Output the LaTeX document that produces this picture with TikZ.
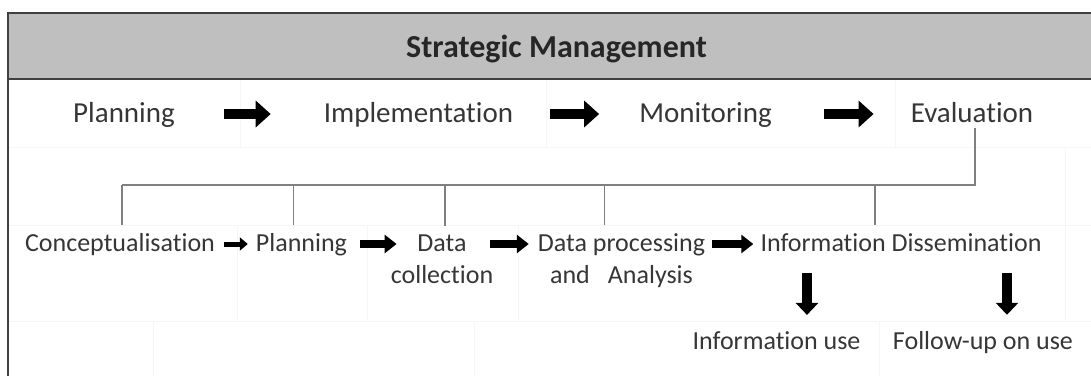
\documentclass[tikz,border=0pt]{standalone}
\usepackage{fontspec}
\setmainfont{Carlito}[Ligatures=NoCommon]
\usepackage{tikz}
\usetikzlibrary{arrows.meta}

\definecolor{headgray}{HTML}{BFBFBF}
\definecolor{framegray}{HTML}{404040}
\definecolor{txt}{HTML}{363636}

\tikzset{
  stage/.style={font=\fontsize{29}{35}\selectfont, text=txt, anchor=base, inner xsep=0pt, inner ysep=6pt},
  task/.style={font=\fontsize{26}{32}\selectfont, text=txt, anchor=base, align=center, inner xsep=0pt, inner ysep=8pt},
  bigarrow/.style={line width=10pt, -{Triangle[length=15pt,width=26pt]}},
  midarrow/.style={line width=8pt, -{Triangle[length=12pt,width=18pt]}},
  smallarrow/.style={line width=5pt, -{Triangle[length=8pt,width=13pt]}},
  downarrow/.style={line width=10pt, -{Triangle[length=12pt,width=22pt]}},
  bracket/.style={draw=black!50, line width=1.2pt},
  cell/.style={draw=black!3.5, line width=1pt}
}

\begin{document}
\begin{tikzpicture}[x=1pt,y=-1pt]
	\useasboundingbox (0,0) rectangle (1091,376);

	% faint table cells
	\foreach \x in {240,546,895} \draw[cell] (\x,80) -- (\x,147);
	\foreach \x in {237,367,518} \draw[cell] (\x,225) -- (\x,321);
	\foreach \x in {153,474,879} \draw[cell] (\x,321) -- (\x,376);
	\foreach \y in {147,225,321} \draw[cell] (8,\y) -- (1091,\y);
	\draw[cell] (1065,147) -- (1065,321);

	% header band
	\fill[headgray] (8,13) rectangle (1091,79);
	\draw[framegray, line width=1.5pt] (1091,13) -- (8,13) -- (8,376);
	\draw[framegray, line width=1.5pt] (8,79) -- (1091,79);
	\node[font=\bfseries\fontsize{32}{38}\selectfont, text=black!85, anchor=base] (sm) at (556.5,57) {Strategic Management};

	% management cycle
	\coordinate (r1) at (0,114);
	\node[stage] (plan) at (124,122) {Planning};
	\node[stage] (impl) at (418.5,122) {Implementation};
	\node[stage] (moni) at (705.5,122) {Monitoring};
	\node[stage] (eval) at (972,122) {Evaluation};

	\draw[bigarrow, shorten <=49pt, shorten >=53pt] (plan.east |- r1) -- (impl.west |- r1);
	\draw[bigarrow, shorten <=37pt, shorten >=40pt] (impl.east |- r1) -- (moni.west |- r1);
	\draw[bigarrow, shorten <=52pt, shorten >=37pt] (moni.east |- r1) -- (eval.west |- r1);

	% information cycle (two-line labels sit on their last baseline)
	\coordinate (r2) at (0,244);
	\node[task] (conc) at (120,251) {Conceptualisation};
	\node[task] (plan2) at (301.5,251) {Planning};
	\node[task] (coll) at (442,283) {Data\\collection};
	\node[task] (proc) at (621.5,283) {Data processing\\and\hspace{18pt}Analysis};
	\node[task] (diss) at (901,251) {Information Dissemination};

	\draw[smallarrow, shorten <=9pt, shorten >=8pt] (conc.east |- r2) -- (plan2.west |- r2);
	\draw[midarrow, shorten <=13pt, shorten >=-6pt] (plan2.east |- r2) -- (coll.west |- r2);
	\draw[midarrow, shorten <=-3pt, shorten >=9pt] (coll.east |- r2) -- (proc.west |- r2);
	\draw[midarrow, shorten <=7pt, shorten >=7pt] (proc.east |- r2) -- (diss.west |- r2);

	% bracket from evaluation
	\coordinate (bar) at (0,185);
	\draw[bracket] ([xshift=3pt]eval.south) |- ([xshift=2pt]conc.north |- bar);
	\foreach \n/\dx in {conc/2,plan2/-8,coll/3,proc/-17,diss/-26}{
		\draw[bracket] ([xshift=\dx pt]\n.north |- bar) -- ([xshift=\dx pt]\n.north);
	}

	% use of information
	\node[task] (use) at (776.5,349) {Information use};
	\node[task] (follow) at (983,349) {Follow-up on use};
	\coordinate (u1) at (807,273);
	\coordinate (u2) at (1007,273);
	\draw[downarrow, shorten >=8pt] (u1) -- (u1 |- use.north);
	\draw[downarrow, shorten >=8pt] (u2) -- (u2 |- follow.north);
\end{tikzpicture}
\end{document}
